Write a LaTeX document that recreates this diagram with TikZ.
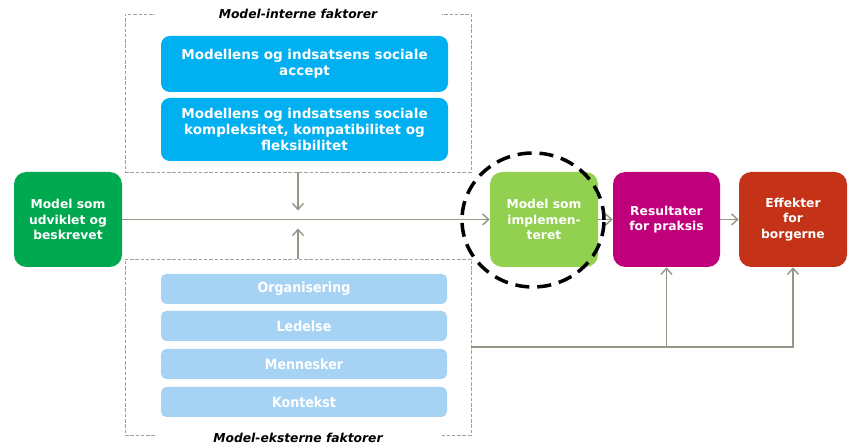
\documentclass[tikz,border=0pt]{standalone}
\usepackage{fontspec}
\setmainfont{DejaVu Sans}
\newfontfamily\condfont{DejaVu Sans Condensed}
\usepackage{xcolor}
\usetikzlibrary{arrows.meta,shapes.geometric,calc}
\definecolor{factorblue}{RGB}{0,176,240}
\definecolor{paleblue}{RGB}{166,211,244}
\definecolor{devgreen}{RGB}{0,168,80}
\definecolor{implime}{RGB}{146,208,80}
\definecolor{resmagenta}{RGB}{192,0,122}
\definecolor{effred}{RGB}{196,50,24}
\definecolor{linegray}{RGB}{150,150,135}

\begin{document}
\begin{tikzpicture}[
  stage/.style={
    fill=#1,
    rounded corners=7pt,
    minimum width=21.6mm,
    minimum height=19mm,
    align=center,
    text=white,
    font=\fontsize{7}{8.8}\selectfont\bfseries
  },
  inner/.style={
    fill=factorblue,
    rounded corners=5pt,
    minimum width=57.4mm,
    align=center,
    text=white,
    font=\fontsize{7.7}{9.3}\selectfont\bfseries
  },
  outer/.style={
    fill=paleblue,
    rounded corners=3pt,
    minimum width=57.2mm,
    minimum height=6mm,
    text=white,
    font=\fontsize{8}{9}\selectfont\condfont\bfseries
  },
  frame/.style={draw=linegray!90, dash pattern=on 2pt off 1pt, line width=0.5pt, minimum width=69.2mm},
  title/.style={fill=white, minimum width=57.4mm, inner sep=1pt, font=\fontsize{7}{8}\selectfont\bfseries\itshape},
  line/.style={-{Straight Barb[length=1.2mm, width=2.2mm]}, line width=0.8pt, draw=linegray}
]
\useasboundingbox (0,0) rectangle (17.02,8.96);

% Model-interne faktorer
\node[frame, minimum height=31.6mm] (intbox) at (5.96,7.10) {};
\node[title] (inttitle) at (5.96,8.68) {Model-interne faktorer};
\node[inner, minimum height=11.2mm] (accept) at (6.09,7.68) {Modellens og indsatsens sociale\\accept};
\node[inner, minimum height=12.6mm] (kompl) at (6.09,6.37) {Modellens og indsatsens sociale\\kompleksitet, kompatibilitet og\\fleksibilitet};

% Model-eksterne faktorer
\node[frame, minimum height=35.2mm] (extbox) at (5.96,2.02) {};
\node[title] (exttitle) at (5.96,0.20) {Model-eksterne faktorer};
\node[outer] (org) at (6.08,3.18) {Organisering};
\node[outer] (led) at (6.08,2.44) {Ledelse};
\node[outer] (men) at (6.08,1.68) {Mennesker};
\node[outer] (kon) at (6.08,0.92) {Kontekst};

% Stages
\node[stage=devgreen] (dev) at (1.36,4.57) {Model som\\udviklet og\\beskrevet};
\node[stage=implime] (imp) at (10.88,4.57) {Model som\\implemen-\\teret};
\node[stage=resmagenta, minimum width=21.4mm] (res) at (13.33,4.57) {Resultater\\for praksis};
\node[stage=effred] (eff) at (15.86,4.57) {Effekter\\for\\borgerne};

% Flow
\draw[line] (dev) -- (imp);
\draw[line] (imp) -- (res);
\draw[line] (res) -- (eff);

% Influence of the factors
\coordinate (downtip) at ($(intbox.south)+(0,-0.76)$);
\coordinate (uptip) at ($(extbox.north)+(0,0.6)$);
\draw[line] (intbox.south) -- (downtip);
\draw[line] (extbox.north) -- (uptip);
\draw[line] (extbox.east) -| (eff.south);
\draw[line] (extbox.east -| res.south) -- (res.south);

% Focus
\node[ellipse, draw=black, line width=2pt, dash pattern=on 8pt off 4.5pt, minimum width=28.4mm, minimum height=26.8mm] (focus) at (10.66,4.56) {};

\end{tikzpicture}
\end{document}
